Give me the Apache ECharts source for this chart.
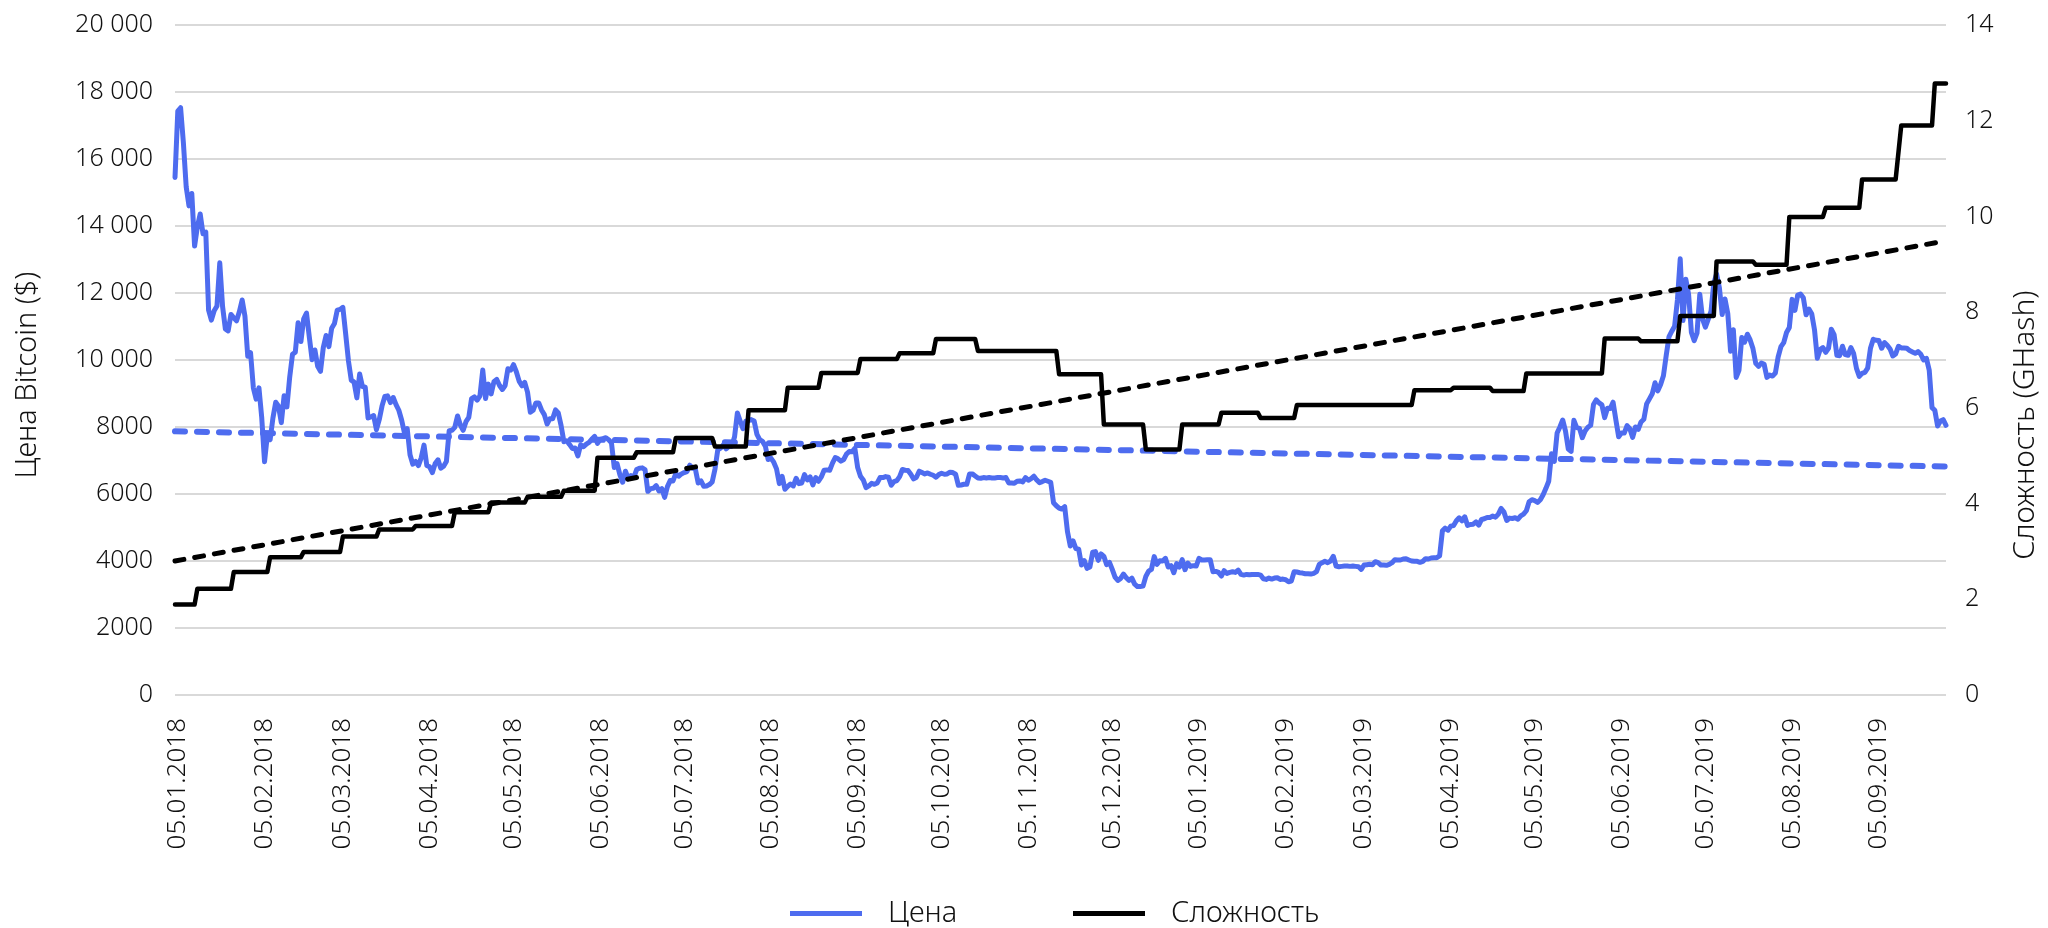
<!DOCTYPE html>
<html>
<head>
<meta charset="utf-8">
<script src="https://cdn.jsdelivr.net/npm/echarts@6/dist/echarts.min.js"></script>
<style>
html,body{margin:0;padding:0;background:#ffffff;}
#chart{width:2048px;height:928px;}
</style>
</head>
<body>
<div id="chart"></div>
<script>
// ---- data ----
const seriesNames = ['Цена', 'Сложность'];
const leftAxisTitle = 'Цена Bitcoin ($)';
const rightAxisTitle = 'Сложность (GHash)';

// x tick labels
const xTickLabels = ['05.01.2018','05.02.2018','05.03.2018','05.04.2018','05.05.2018','05.06.2018',
  '05.07.2018','05.08.2018','05.09.2018','05.10.2018','05.11.2018','05.12.2018','05.01.2019',
  '05.02.2019','05.03.2019','05.04.2019','05.05.2019','05.06.2019','05.07.2019','05.08.2019','05.09.2019'];

// daily price, 04.01.2018 .. 31.12.2018
const price2018 = [
  15450,17430,17530,16480,15170,14600,14970,13400,13980,14360,13770,13820,11490,11190,11470,11610,12900,11600,10930,10870,11360,11260,11170,11440,11790,11310,10110,10220,
  9170,8830,9170,8280,6960,7750,7620,8270,8740,8620,8130,8930,8600,9490,10170,10230,11110,10550,11230,11400,10690,10010,10300,9810,9660,10370,10730,10400,
  10950,11090,11490,11510,11570,10780,9970,9400,9340,8870,9580,9210,9190,8270,8300,8340,7920,8220,8630,8910,8930,8730,8880,8670,8500,8210,7830,7950,7170,6890,6970,
  6850,7080,7460,6850,6810,6640,6910,7020,6770,6830,6970,7890,7900,7990,8330,8060,7900,8160,8290,8850,8900,8800,8930,9700,8850,9280,8990,9350,9420,9240,
  9120,9240,9740,9700,9860,9650,9370,9230,9330,9040,8440,8500,8720,8720,8510,8370,8090,8250,8250,8510,8420,8040,7560,7590,7480,7360,7370,7140,7470,7410,7490,
  7540,7640,7720,7510,7630,7650,7680,7620,7530,6790,6910,6580,6350,6680,6460,6550,6500,6730,6770,6780,6730,6080,6160,6170,6250,6090,6160,5900,6220,6400,
  6390,6610,6530,6600,6640,6670,6860,6770,6740,6330,6390,6230,6240,6280,6360,6740,7320,7370,7470,7350,7420,7420,7710,8420,8180,7950,8170,8190,8220,8180,7780,
  7620,7570,7430,7030,7070,6950,6750,6310,6530,6140,6230,6300,6240,6470,6310,6330,6580,6420,6510,6270,6490,6380,6510,6710,6720,6710,6920,7090,7050,6980,7030,
  7190,7270,7260,7360,6790,6530,6420,6190,6240,6320,6290,6330,6490,6490,6520,6500,6260,6370,6400,6520,6730,6710,6700,6590,6450,6500,6680,6640,6600,6630,
  6590,6560,6500,6580,6620,6590,6600,6650,6640,6590,6260,6270,6290,6290,6600,6600,6540,6480,6470,6490,6480,6490,6480,6480,6490,6490,6480,6490,6330,6330,6320,
  6380,6390,6360,6490,6410,6460,6530,6420,6340,6370,6410,6380,6350,5740,5650,5580,5550,5620,4870,4450,4600,4370,4350,3880,4010,3780,3820,4260,4280,4020,
  4210,4140,3890,3960,3750,3520,3420,3480,3610,3500,3420,3490,3310,3240,3240,3250,3540,3700,3750,4130,3900,4010,4000,4080,3820,3860,3650,3920,3820,4040,3740
];
// daily price, 01.01.2019 .. 29.09.2019
const price2019 = [
  3940,3840,3860,3850,4080,4030,4030,4040,4040,3680,3690,3660,3550,3710,3630,3660,3680,3660,3730,3600,3580,3600,3590,3600,3600,3600,3580,3470,3450,3490,3460,
  3490,3500,3450,3460,3440,3380,3400,3680,3670,3650,3640,3620,3620,3610,3630,3680,3900,3950,3990,3950,4000,4140,3850,3830,3840,3850,3850,3840,
  3850,3840,3830,3750,3880,3890,3900,3890,3980,3950,3880,3880,3870,3900,3950,4040,4030,4030,4060,4070,4030,4000,3990,3990,3960,3990,4070,4060,4090,4100,4100,
  4150,4900,4980,4920,5040,5060,5200,5290,5200,5320,5060,5090,5100,5170,5070,5240,5260,5300,5300,5340,5310,5400,5570,5460,5210,5280,5270,5290,5250,5350,
  5400,5500,5770,5830,5800,5750,5830,5980,6170,6380,7200,6970,7820,8000,8210,7880,7340,7270,8200,7980,7960,7680,7880,7990,8050,8670,8810,8720,8660,8280,8560,
  8550,8740,8210,7710,7820,7820,8040,7950,7690,8000,7930,8150,8230,8690,8840,8990,9320,9080,9270,9530,10140,10700,10860,11010,11790,13020,11180,12410,11960,10820,
  10580,10800,11960,11220,10980,11210,11450,12290,12570,12160,11360,11820,11390,10260,10900,9480,9690,10670,10530,10770,10600,10340,9900,9810,9910,9870,9480,9550,9520,9610,10090,
  10400,10520,10820,10970,11810,11480,11940,11970,11860,11350,11520,11380,10900,10050,10310,10370,10230,10350,10920,10760,10140,10130,10410,10160,10140,10370,10190,9750,9510,9600,9630,
  9760,10350,10620,10590,10580,10350,10520,10440,10330,10120,10180,10410,10360,10360,10350,10280,10240,10200,10250,10170,10000,10050,9700,8580,8500,8030,8180,8220,8050
];

// difficulty levels: [first day, last day, value]
const difficultySteps = [
  ['2018-01-04','2018-01-11',1.89],['2018-01-12','2018-01-24',2.22],['2018-01-25','2018-02-06',2.57],
  ['2018-02-07','2018-02-18',2.88],['2018-02-19','2018-03-04',2.99],['2018-03-05','2018-03-17',3.31],
  ['2018-03-18','2018-03-30',3.46],['2018-03-31','2018-04-13',3.53],['2018-04-14','2018-04-26',3.82],
  ['2018-04-27','2018-05-09',4.02],['2018-05-10','2018-05-22',4.14],['2018-05-23','2018-06-03',4.27],
  ['2018-06-04','2018-06-17',4.96],['2018-06-18','2018-07-01',5.07],['2018-07-02','2018-07-15',5.37],
  ['2018-07-16','2018-07-27',5.19],['2018-07-28','2018-08-10',5.95],['2018-08-11','2018-08-22',6.42],
  ['2018-08-23','2018-09-05',6.73],['2018-09-06','2018-09-19',7.02],['2018-09-20','2018-10-02',7.14],
  ['2018-10-03','2018-10-17',7.44],['2018-10-18','2018-11-15',7.19],['2018-11-16','2018-12-01',6.70],
  ['2018-12-02','2018-12-16',5.65],['2018-12-17','2018-12-29',5.13],['2018-12-30','2019-01-12',5.65],
  ['2019-01-13','2019-01-26',5.90],['2019-01-27','2019-02-08',5.79],['2019-02-09','2019-03-22',6.06],
  ['2019-03-23','2019-04-05',6.37],['2019-04-06','2019-04-19',6.42],['2019-04-20','2019-05-01',6.35],
  ['2019-05-02','2019-05-29',6.72],['2019-05-30','2019-06-11',7.45],['2019-06-12','2019-06-25',7.39],
  ['2019-06-26','2019-07-08',7.92],['2019-07-09','2019-07-22',9.06],['2019-07-23','2019-08-03',8.99],
  ['2019-08-04','2019-08-16',9.99],['2019-08-17','2019-08-29',10.18],['2019-08-30','2019-09-11',10.77],
  ['2019-09-13','2019-09-24',11.90],['2019-09-25','2019-09-29',12.78]
];

// linear trend lines (end points)
const priceTrend = [['2018-01-04', 7870], ['2019-09-29', 6820]];
const difficultyTrend = [['2018-01-04', 2.80], ['2019-09-29', 9.49]];

const priceTicks = [0,2000,4000,6000,8000,10000,12000,14000,16000,18000,20000];
const difficultyTicks = [0,2,4,6,8,10,12,14];

// ---- helpers ----
function parseISO(s){ const p = s.split('-').map(Number); return new Date(p[0], p[1]-1, p[2]).getTime(); }
function parseDMY(s){ const p = s.split('.').map(Number); return new Date(p[2], p[1]-1, p[0]).getTime(); }
function pad(n){ return (n < 10 ? '0' : '') + n; }
function fmtDate(v){ const d = new Date(v); return pad(d.getDate()) + '.' + pad(d.getMonth()+1) + '.' + d.getFullYear(); }

const priceValues = price2018.concat(price2019);
const priceData = priceValues.map((v, i) => [new Date(2018, 0, 4 + i).getTime(), v]);
const difficultyData = [];
difficultySteps.forEach(s => { difficultyData.push([parseISO(s[0]), s[2]]); difficultyData.push([parseISO(s[1]), s[2]]); });
const priceTrendData = priceTrend.map(p => [parseISO(p[0]), p[1]]);
const difficultyTrendData = difficultyTrend.map(p => [parseISO(p[0]), p[1]]);
const xMin = parseISO('2018-01-04');
const xMax = parseISO('2019-09-29');

const FONT = "'Noto Sans', 'Open Sans', sans-serif";
const FW = 300;
const BLUE = '#4E6CEF';
const TEXT = '#111111';

const chart = echarts.init(document.getElementById('chart'), null, {renderer: 'canvas'});
chart.setOption({
  animation: false,
  backgroundColor: '#ffffff',
  textStyle: {fontFamily: FONT, fontWeight: FW},
  grid: {left: 175, right: 93, top: 25, bottom: 233},
  legend: [
    {data: [seriesNames[0]], left: 790, top: 899, padding: 0, icon: 'rect', itemWidth: 72, itemHeight: 5,
     textStyle: {fontFamily: FONT, fontWeight: FW, fontSize: 29, color: TEXT, padding: [0, 0, 0, 21]}},
    {data: [seriesNames[1]], left: 1073, top: 899, padding: 0, icon: 'rect', itemWidth: 72, itemHeight: 5,
     textStyle: {fontFamily: FONT, fontWeight: FW, fontSize: 29, color: TEXT, padding: [0, 0, 0, 21]}}
  ],
  xAxis: {
    type: 'value', min: xMin, max: xMax,
    axisLine: {show: false}, axisTick: {show: false}, splitLine: {show: false},
    axisLabel: {
      customValues: xTickLabels.map(parseDMY),
      formatter: fmtDate, rotate: 90, margin: 23, fontSize: 26, color: TEXT, fontFamily: FONT, fontWeight: FW,
      hideOverlap: false, showMinLabel: true, showMaxLabel: true
    }
  },
  yAxis: [
    {
      type: 'value', position: 'left', min: priceTicks[0], max: priceTicks[priceTicks.length-1], interval: 2000,
      name: leftAxisTitle, nameLocation: 'middle', nameGap: 133, nameRotate: 90,
      nameTextStyle: {fontFamily: FONT, fontWeight: FW, fontSize: 29, color: TEXT, padding: [0, 30, 0, 0]},
      axisLine: {show: false}, axisTick: {show: false},
      splitLine: {show: true, lineStyle: {color: '#D9D9D9', width: 2}},
      axisLabel: {
        margin: 22, fontSize: 25, color: TEXT, fontFamily: FONT, fontWeight: FW,
        formatter: v => v >= 10000 ? String(v).replace(/\B(?=(\d{3})+(?!\d))/g, '\u00a0') : String(v)
      }
    },
    {
      type: 'value', position: 'right', min: difficultyTicks[0], max: difficultyTicks[difficultyTicks.length-1], interval: 2,
      name: rightAxisTitle, nameLocation: 'middle', nameGap: 64, nameRotate: 90,
      nameTextStyle: {fontFamily: FONT, fontWeight: FW, fontSize: 30, color: TEXT, padding: [0, 130, 0, 0]},
      axisLine: {show: false}, axisTick: {show: false}, splitLine: {show: false},
      axisLabel: {margin: 19, fontSize: 25, color: TEXT, fontFamily: FONT, fontWeight: FW}
    }
  ],
  series: [
    {
      name: 'Линейная (Цена)', type: 'line', yAxisIndex: 0, data: priceTrendData,
      symbol: 'none', silent: true,
      lineStyle: {color: BLUE, width: 6, type: [10, 12], cap: 'round'}
    },
    {
      name: seriesNames[0], type: 'line', yAxisIndex: 0, data: priceData,
      symbol: 'none', showSymbol: false,
      itemStyle: {color: BLUE},
      lineStyle: {color: BLUE, width: 5, join: 'round', cap: 'round'}
    },
    {
      name: seriesNames[1], type: 'line', yAxisIndex: 1, data: difficultyData,
      symbol: 'none', showSymbol: false,
      itemStyle: {color: '#000000'},
      lineStyle: {color: '#000000', width: 4.5, join: 'round', cap: 'round'}
    },
    {
      name: 'Линейная (Сложность)', type: 'line', yAxisIndex: 1, data: difficultyTrendData,
      symbol: 'none', silent: true,
      lineStyle: {color: '#000000', width: 5, type: [9, 11], cap: 'round'}
    }
  ]
});
</script>
</body>
</html>
